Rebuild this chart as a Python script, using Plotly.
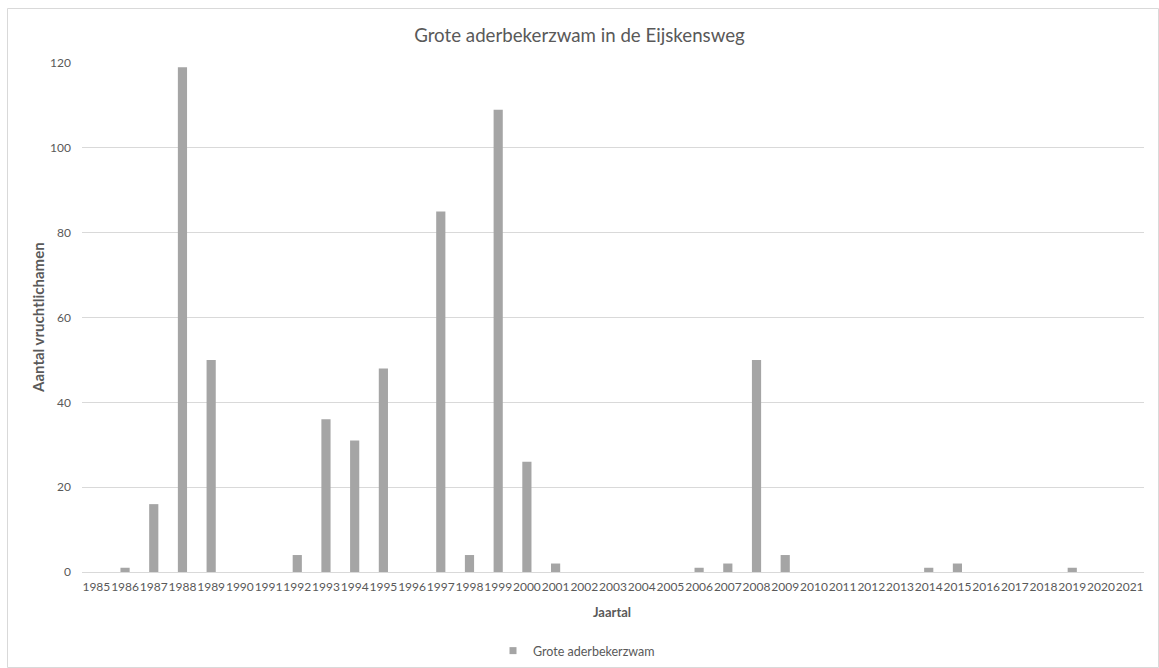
import plotly.graph_objects as go

years = [str(y) for y in range(1985, 2022)]
counts = [0, 1, 16, 119, 50, 0, 0, 4, 36, 31, 48, 0, 85, 4, 109, 26, 2,
          0, 0, 0, 0, 1, 2, 50, 4, 0, 0, 0, 0, 1, 2, 0, 0, 0, 1, 0, 0]
series_name = "Grote aderbekerzwam"
y_ticks = [0, 20, 40, 60, 80, 100, 120]

FONT = "Lato, 'Open Sans', sans-serif"
TXT = "#595959"
GRID = "#d9d9d9"
BAR = "#a5a5a5"

W, H = 1159, 668
L, R, T, B = 82, 15, 63, 96
pw, ph = W - L - R, H - T - B


def px_x(p):
    return (p - L) / pw


def px_y(p):
    return (H - B - p) / ph


fig = go.Figure()
fig.add_trace(go.Bar(
    x=years, y=counts, name=series_name, showlegend=False,
    marker=dict(color=BAR, line=dict(width=0)),
))
# legend entry with a small square swatch
fig.add_trace(go.Scatter(
    x=[None], y=[None], mode="markers", name=series_name,
    marker=dict(symbol="square", size=7, color=BAR),
))

fig.update_layout(
    width=W, height=H,
    margin=dict(l=L, r=R, t=T, b=B, autoexpand=False),
    paper_bgcolor="white", plot_bgcolor="white",
    font=dict(family=FONT, color=TXT, size=12),
    bargap=0.68,
    showlegend=True,
    legend=dict(orientation="h", x=px_x(493), xanchor="left", y=px_y(651), yanchor="middle",
                font=dict(size=12.5, color=TXT), itemwidth=30),
    title=dict(text="Grote aderbekerzwam in de Eijskensweg", x=0.5, xanchor="center",
               xref="container", y=1 - 35 / H, yanchor="middle",
               font=dict(size=18.7, color=TXT)),
    xaxis=dict(
        type="category", tickfont=dict(size=12, color=TXT), tickangle=0,
        showgrid=False, showline=True, linecolor=GRID, linewidth=1,
        ticks="", ticklabelstandoff=4, automargin=False,
    ),
    yaxis=dict(
        range=[0, 120], tickvals=y_ticks, tickfont=dict(size=12, color=TXT),
        showgrid=True, gridcolor=GRID, gridwidth=1, zeroline=False,
        showline=False, ticks="", ticklabelstandoff=10, automargin=False,
    ),
    annotations=[
        dict(text="<b>Jaartal</b>", xref="paper", yref="paper", x=px_x(612), y=px_y(612),
             showarrow=False, xanchor="center", yanchor="middle",
             font=dict(size=13, color=TXT)),
        dict(text="<b>Aantal vruchtlichamen</b>", xref="paper", yref="paper",
             x=px_x(38), y=px_y(318), textangle=-90, showarrow=False,
             xanchor="center", yanchor="middle", font=dict(size=15, color=TXT)),
    ],
    shapes=[dict(type="rect", xref="paper", yref="paper",
                 x0=px_x(7.5), x1=px_x(1158.5), y0=px_y(667.5), y1=px_y(8.5),
                 line=dict(color=GRID, width=1), fillcolor="rgba(0,0,0,0)", layer="below")],
)

fig.write_html("out.html")
